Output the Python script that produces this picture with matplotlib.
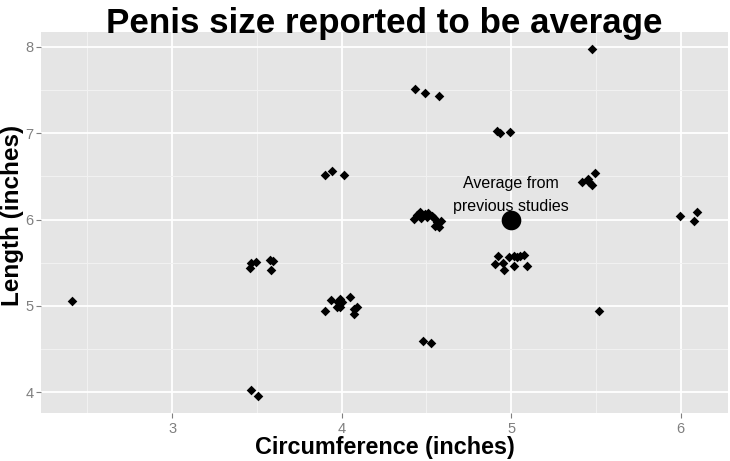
import matplotlib
matplotlib.use('Agg')
import matplotlib.pyplot as plt
from matplotlib import font_manager

names = {f.name for f in font_manager.fontManager.ttflist}
NARROW = 'Liberation Sans Narrow' if 'Liberation Sans Narrow' in names else 'Liberation Sans'
REG = 'Liberation Sans'

title = "Penis size reported to be average"
xlabel = "Circumference (inches)"
ylabel = "Length (inches)"
x_ticks = [3, 4, 5, 6]
y_ticks = [4, 5, 6, 7, 8]

circumference = [2.41,
                 3.464, 3.496, 3.460, 3.578, 3.592, 3.584,
                 3.464, 3.506,
                 3.903, 3.944, 4.015,
                 3.934, 3.903, 3.991, 3.981, 4.001, 3.972, 3.991, 4.050, 4.070, 4.090, 4.070,
                 4.434, 4.489, 4.575,
                 4.424, 4.444, 4.463, 4.467, 4.493, 4.503, 4.512, 4.532, 4.542, 4.562, 4.577, 4.552, 4.585,
                 4.479, 4.526,
                 4.916, 4.935, 4.994,
                 4.925, 4.990, 5.014, 5.034, 5.053, 5.078, 4.906, 4.951, 4.955, 5.019, 5.096,
                 5.417, 5.456, 5.496, 5.462, 5.476,
                 5.476, 5.517,
                 5.997, 6.095, 6.081]
length = [5.06,
          5.498, 5.513, 5.436, 5.536, 5.521, 5.417,
          4.022, 3.961,
          6.51, 6.556, 6.51,
          5.070, 4.942, 5.081, 5.042, 5.042, 4.984, 4.992, 5.100, 4.965, 4.984, 4.907,
          7.506, 7.468, 7.425,
          6.008, 6.054, 6.085, 6.023, 6.066, 6.027, 6.078, 6.046, 6.015, 5.969, 5.911, 5.930, 5.988,
          4.598, 4.571,
          7.020, 7.000, 7.016,
          5.575, 5.563, 5.583, 5.563, 5.575, 5.594, 5.487, 5.498, 5.421, 5.467, 5.467,
          6.432, 6.471, 6.541, 6.432, 6.402,
          7.970, 4.937,
          6.038, 6.085, 5.980]

avg_circ = [5.0]
avg_len = [6.0]
avg_text = "Average from\nprevious studies"
avg_text_pos = (5.0, 6.285)

W, H = 730, 461
fig = plt.figure(figsize=(W / 100, H / 100), dpi=100)
L, R, T, B = 41, 728, 32, 413
ax = fig.add_axes([L / W, 1 - B / H, (R - L) / W, (B - T) / H])
ax.set_facecolor('#E5E5E5')
for s in ax.spines.values():
    s.set_visible(False)

# ggplot-style 5% expansion
xmin, xmax = min(circumference), max(circumference)
ymin, ymax = min(length), max(length)
ex, ey = 0.05 * (xmax - xmin), 0.05 * (ymax - ymin)
ax.set_xlim(xmin - ex, xmax + ex)
ax.set_ylim(ymin - ey, ymax + ey)

ax.set_xticks(x_ticks)
ax.set_yticks(y_ticks)
ax.set_xticks([2.5, 3.5, 4.5, 5.5], minor=True)
ax.set_yticks([4.5, 5.5, 6.5, 7.5], minor=True)
ax.grid(which='major', color='white', linewidth=1.3)
ax.grid(which='minor', color='#F2F2F2', linewidth=0.7)
ax.set_axisbelow(True)
ax.tick_params(which='major', direction='out', length=3.5, width=0.8, color='#7F7F7F',
               labelcolor='#7F7F7F', labelsize=10.5, pad=1.8)
ax.tick_params(axis='x', which='major', pad=3)
ax.tick_params(which='minor', length=0)
for lab in ax.get_xticklabels() + ax.get_yticklabels():
    lab.set_fontfamily(NARROW)

ax.scatter(circumference, length, marker='D', s=24, color='black', linewidths=0, zorder=3)
ax.scatter(avg_circ, avg_len, marker='o', s=200, color='black', linewidths=0, zorder=3)
ax.text(avg_text_pos[0], avg_text_pos[1], avg_text, ha='center', va='center',
        fontsize=11.5, family=REG, linespacing=1.65, zorder=4)

cx = (L + R) / 2 / W
fig.text(cx, 1 - 33 / H, title, ha='center', va='baseline', fontsize=25.2,
         fontweight='bold', family=NARROW)
fig.text(cx, 1 - 447 / H, xlabel, ha='center', va='center', fontsize=16.8,
         fontweight='bold', family=NARROW)
fig.text(12.8 / W, 1 - 215 / H, ylabel, ha='center', va='center', rotation=90,
         fontsize=17.5, fontweight='bold', family=REG)

fig.savefig('out.png', dpi=100)
